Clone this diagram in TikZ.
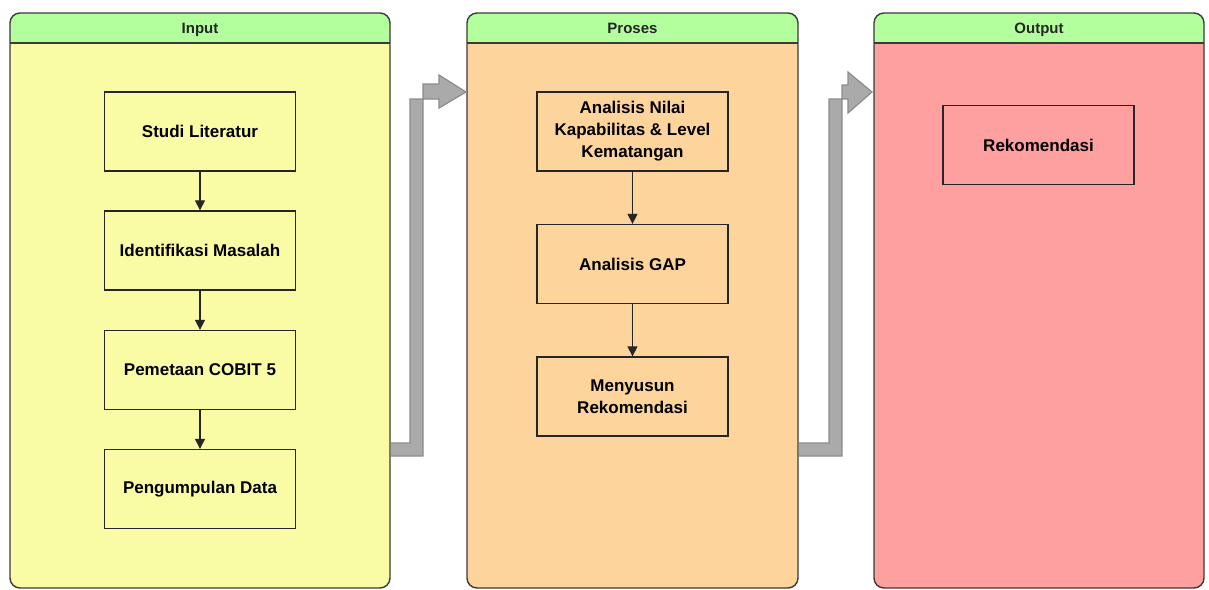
\documentclass[tikz,border=0pt]{standalone}
\usepackage{fontspec}
\setmainfont{Liberation Sans}
\usetikzlibrary{arrows.meta}
\definecolor{headgreen}{HTML}{B3FF9E}
\definecolor{inyellow}{HTML}{F9FCA4}
\definecolor{procorange}{HTML}{FDD49B}
\definecolor{outred}{HTML}{FFA0A0}
\definecolor{lanedraw}{HTML}{3A3A3A}
\definecolor{bigarrow}{HTML}{AAAAAA}
\tikzset{
  stepbox/.style={draw=black!85,line width=1.3pt,minimum width=191pt,minimum height=79pt,
    align=center,font=\fontsize{17}{22}\selectfont\bfseries,inner sep=2pt},
  lanetitle/.style={font=\fontsize{15}{18}\selectfont\bfseries,text=black!85,
    text height=11pt,text depth=3pt},
  flow/.style={->,line width=1.2pt,draw=black!85},
  blockarrow/.style={fill=bigarrow,draw=black!45,line width=1.2pt,line join=miter}
}
\begin{document}
\begin{tikzpicture}[x=1pt,y=-1pt,>={Triangle[length=10pt,width=10pt]}]
\useasboundingbox (0,0) rectangle (1209,589);
% lanes
\foreach \l/\r/\c in {10/390/inyellow,467/798/procorange,874/1204/outred}{
  \fill[\c,rounded corners=10pt] (\l,13) rectangle (\r,588);
  \begin{scope}
    \clip (\l-5,5) rectangle (\r+5,43);
    \fill[headgreen,rounded corners=10pt] (\l,13) rectangle (\r,588);
  \end{scope}
  \draw[lanedraw,line width=1.4pt,rounded corners=10pt] (\l,13) rectangle (\r,588);
  \draw[lanedraw,line width=1.4pt] (\l,43) -- (\r,43);
}
\node[lanetitle] (tin) at (200,29) {Input};
\node[lanetitle] (tproc) at (632.5,29) {Proses};
\node[lanetitle] (tout) at (1039,29) {Output};

% big arrows between lanes
\draw[blockarrow] (391,443) -- (410,443) -- (410,99) -- (439,99) -- (439,108) -- (466,92)
  -- (439,75) -- (439,84) -- (423,84) -- (423,456) -- (391,456);
\draw[blockarrow] (799,443) -- (829,443) -- (829,99) -- (848,99) -- (848,113) -- (872,92)
  -- (848,72) -- (848,85) -- (842,85) -- (842,456) -- (799,456);

% input
\node[stepbox] (studi) at (200,131.5) {Studi Literatur};
\node[stepbox] (identifikasi) at (200,250.5) {Identifikasi Masalah};
\node[stepbox] (pemetaan) at (200,370) {Pemetaan COBIT 5};
\node[stepbox] (pengumpulan) at (200,489) {Pengumpulan Data};
\draw[flow] (studi) -- (identifikasi);
\draw[flow] (identifikasi) -- (pemetaan);
\draw[flow] (pemetaan) -- (pengumpulan);

% proses
\node[stepbox] (nilai) at (632.5,131.5) {Analisis Nilai\\Kapabilitas \& Level\\Kematangan};
\node[stepbox] (gap) at (632.5,264) {Analisis GAP};
\node[stepbox] (menyusun) at (632.5,396.5) {Menyusun\\Rekomendasi};
\draw[flow] (nilai) -- (gap);
\draw[flow] (gap) -- (menyusun);

% output
\node[stepbox] (rekomendasi) at (1038.5,145) {Rekomendasi};
\end{tikzpicture}
\end{document}
